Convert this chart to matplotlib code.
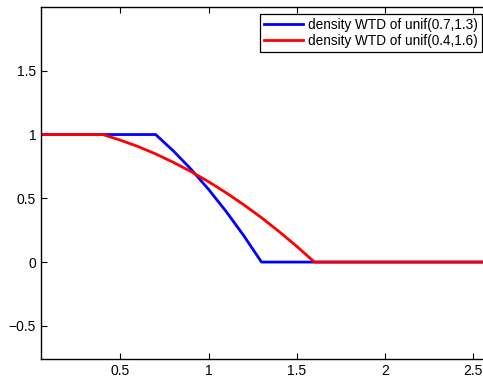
import numpy as np
import matplotlib
matplotlib.use("Agg")
import matplotlib.pyplot as plt

plt.rcParams['font.family'] = ['Liberation Sans', 'DejaVu Sans']

# values
x_blue = [0.05, 0.7, 0.8, 0.9, 1.0, 1.1, 1.2, 1.3, 2.6]
y_blue = [1.0, 1.0, 0.872, 0.729, 0.57, 0.396, 0.206, 0.0, 0.0]

x_red = [0.05, 0.4, 0.5, 0.6, 0.7, 0.8, 0.9, 1.0, 1.1, 1.2, 1.3, 1.4, 1.5, 1.6, 2.6]
y_red = [1.0, 1.0, 0.956, 0.906, 0.848, 0.782, 0.71, 0.63, 0.543, 0.449, 0.348,
         0.239, 0.123, 0.0, 0.0]

labels = ["density WTD of unif(0.7,1.3)", "density WTD of unif(0.4,1.6)"]
x_ticks = [0.5, 1, 1.5, 2, 2.5]
y_ticks = [-0.5, 0, 0.5, 1, 1.5]

W, H = 483, 381
fig = plt.figure(figsize=(W / 100, H / 100), dpi=100)
ax = fig.add_axes([41 / W, 1 - 359 / H, 449.8 / W, 352 / H])

ax.plot(x_blue, y_blue, color="#0000ff", lw=2.0, label=labels[0])
ax.plot(x_red, y_red, color="#ff0000", lw=2.0, label=labels[1])

ax.set_xlim(0.05, 2.6)
ax.set_ylim(-0.76, 2.0)
ax.set_xticks(x_ticks)
ax.set_xticklabels(["0.5", "1", "1.5", "2", "2.5"])
ax.set_yticks(y_ticks)
ax.set_yticklabels(["\u22120.5", "0", "0.5", "1", "1.5"])
ax.tick_params(direction="in", length=4, width=0.8, top=True, right=False,
               labelsize=10, colors="black")
for s in ax.spines.values():
    s.set_linewidth(1.0)

leg = ax.legend(loc="upper right", bbox_to_anchor=(482 / W, 1 - 14 / H),
                bbox_transform=fig.transFigure, fontsize=9.8, fancybox=False,
                framealpha=1, edgecolor="black", borderpad=0.3, labelspacing=0.15,
                handlelength=2.9, handletextpad=0.36, borderaxespad=0)
leg.get_frame().set_linewidth(0.9)

fig.savefig("out.png", dpi=100)
